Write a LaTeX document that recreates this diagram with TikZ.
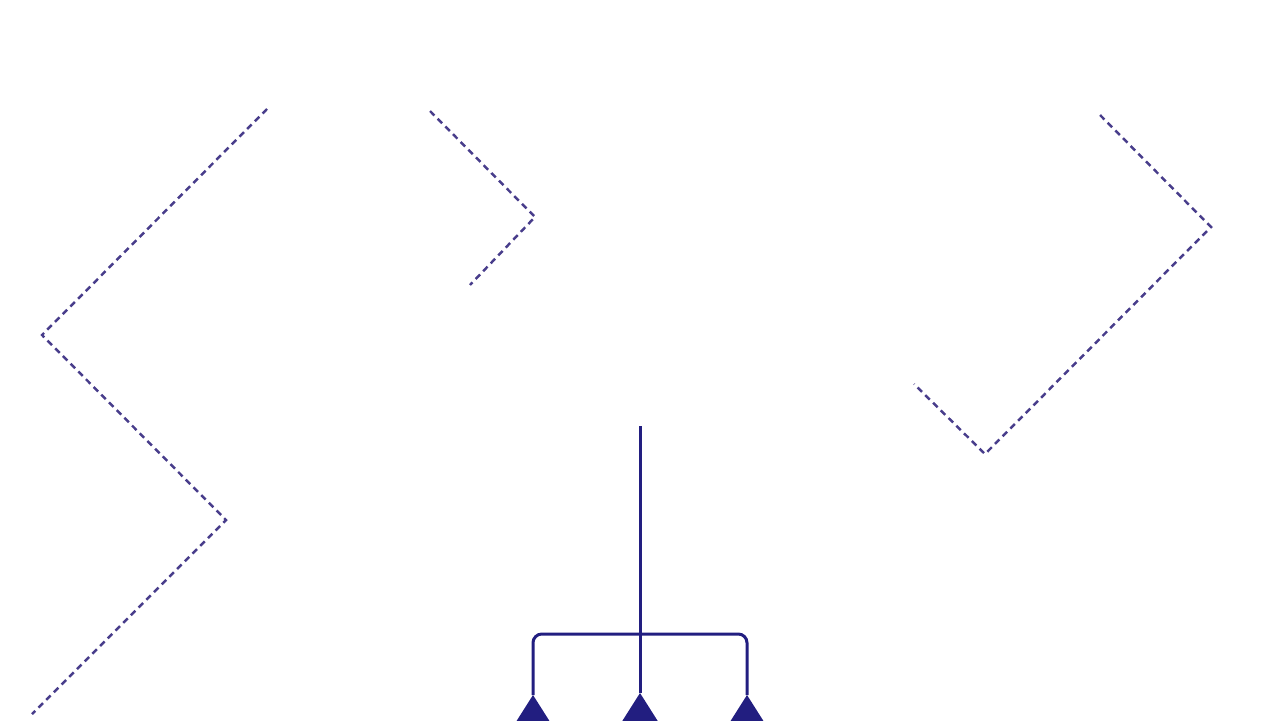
\documentclass[tikz,border=0pt]{standalone}
\usepackage{tikz}
\usetikzlibrary{arrows.meta,positioning}
\definecolor{trail}{RGB}{72,61,139}
\definecolor{stem}{RGB}{34,30,128}
\tikzset{
  trailline/.style={trail, line width=1.4pt, dash pattern=on 3.6pt off 2.6pt},
  stemline/.style={stem, line width=1.7pt},
  tip/.style={fill=stem}
}
\begin{document}
\begin{tikzpicture}[x=0.02cm, y=-0.02cm]
  \useasboundingbox (0,0) rectangle (1280,720);
  \clip (0,0) rectangle (1280,720);
  % dashed trails
  \draw[trailline] (267,109) -- (42,335) -- (226,520) -- (32,714);
  \draw[trailline] (430,111) -- (535,217) -- (470,285);
  \draw[trailline] (1100,115) -- (1211,227) -- (985,454) -- (914,384);
  % stem and fork
  \coordinate (top) at (640,426);
  \coordinate (hub) at (640,634);
  \coordinate (tipL) at (533,695);
  \coordinate (tipM) at (640,693);
  \coordinate (tipR) at (747,695);
  \draw[stemline] (top) -- (tipM);
  \draw[stemline, rounded corners=5] (tipL) |- (hub) -| (tipR);
  \foreach \t in {tipL,tipM,tipR}
    \fill[tip] (\t) -- ++(19,30) -- ++(-38,0) -- cycle;
\end{tikzpicture}
\end{document}
